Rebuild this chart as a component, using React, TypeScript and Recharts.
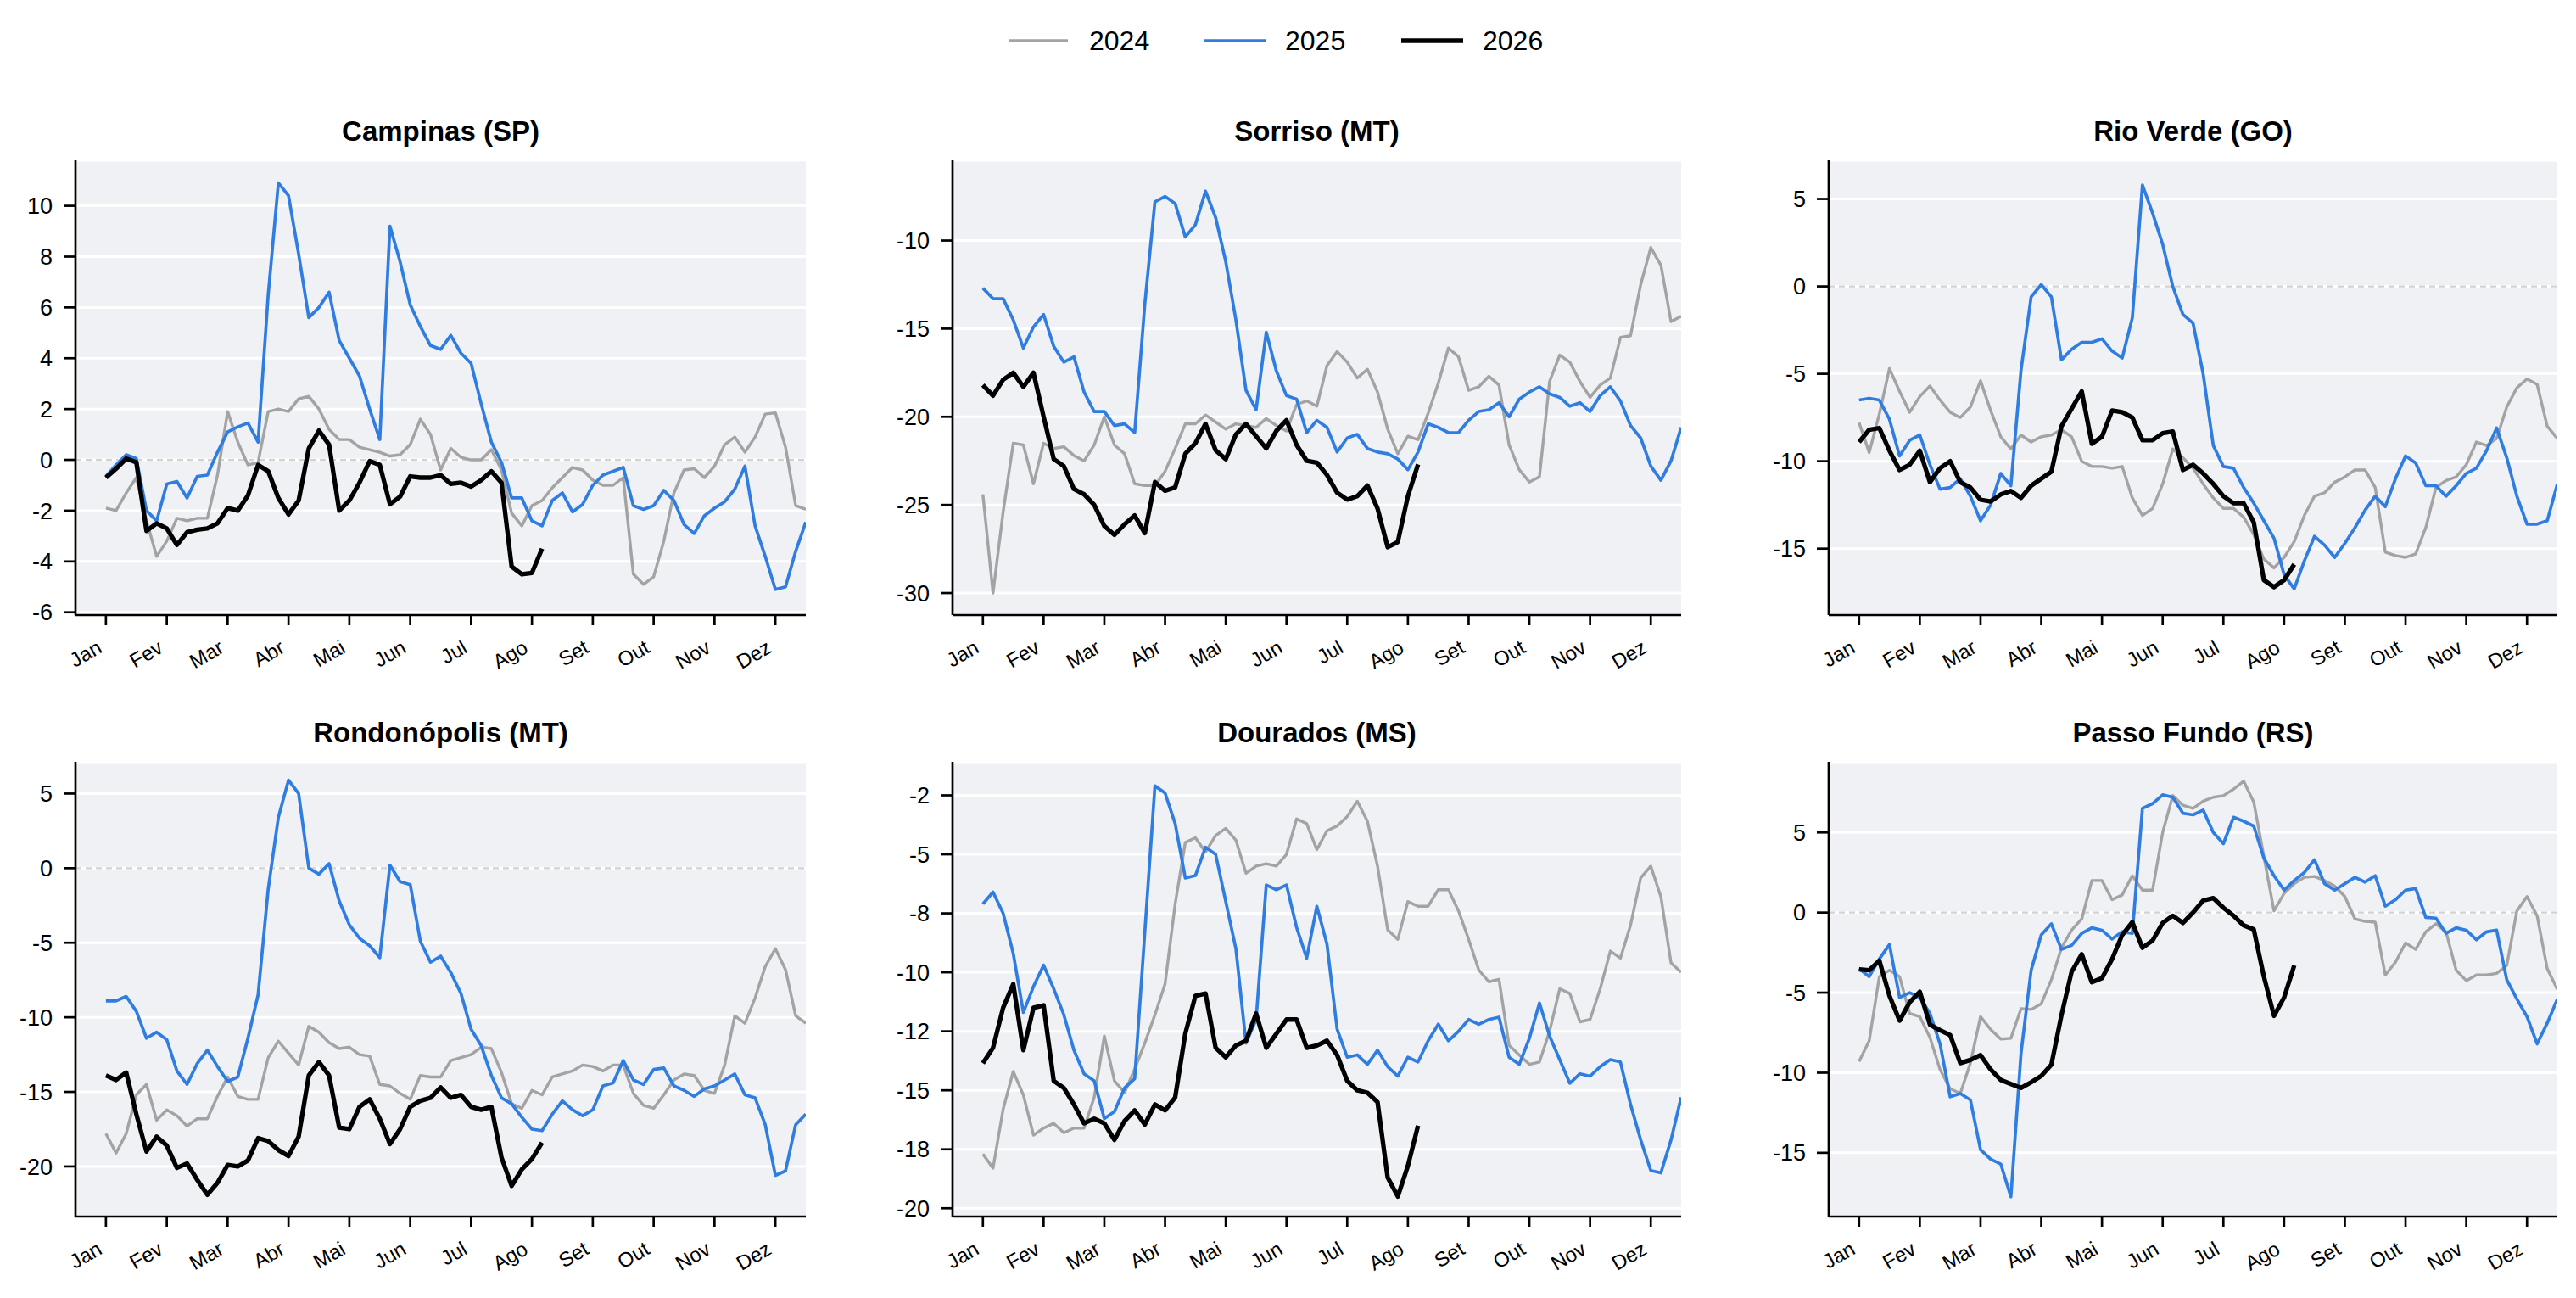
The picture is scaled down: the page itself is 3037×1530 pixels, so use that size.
import React from 'react';
import { LineChart, Line, XAxis, YAxis, CartesianGrid, ReferenceLine } from 'recharts';

// month axis: x is measured in months from Jan, 6 samples per month
const MONTHS = ['Jan', 'Fev', 'Mar', 'Abr', 'Mai', 'Jun', 'Jul', 'Ago', 'Set', 'Out', 'Nov', 'Dez'];
const MONTH_TICKS = [0, 1, 2, 3, 4, 5, 6, 7, 8, 9, 10, 11];
const STEPS_PER_MONTH = 6;
const N_POINTS = 70;
const X = Array.from({ length: N_POINTS }, (_, i) => i / STEPS_PER_MONTH);

const YEARS = ['2024', '2025', '2026'];

// Campinas (SP)
const CAMPINAS_2024 = [-1.9, -2.0, -1.3, -0.7, -2.4, -3.8, -3.2, -2.3, -2.4, -2.3, -2.3, -0.6, 1.9, 0.7, -0.2, -0.1, 1.9, 2.0, 1.9, 2.4, 2.5, 2.0, 1.2, 0.8, 0.8, 0.5, 0.4, 0.3, 0.15, 0.2, 0.6, 1.6, 1.0, -0.4, 0.45, 0.1, 0.0, 0.0, 0.4, -0.4, -2.1, -2.6, -1.8, -1.6, -1.1, -0.7, -0.3, -0.4, -0.8, -1.0, -1.0, -0.7, -4.5, -4.9, -4.6, -3.2, -1.3, -0.4, -0.35, -0.7, -0.25, 0.6, 0.9, 0.3, 0.9, 1.8, 1.85, 0.5, -1.8, -1.95];
const CAMPINAS_2025 = [-0.65, -0.2, 0.2, 0.05, -2.0, -2.4, -0.95, -0.85, -1.5, -0.65, -0.6, 0.3, 1.1, 1.3, 1.45, 0.7, 6.5, 10.9, 10.4, 8.1, 5.6, 6.0, 6.6, 4.7, 4.0, 3.3, 2.0, 0.8, 9.2, 7.8, 6.1, 5.25, 4.5, 4.35, 4.9, 4.2, 3.8, 2.2, 0.7, -0.1, -1.5, -1.5, -2.4, -2.6, -1.6, -1.3, -2.05, -1.75, -1.0, -0.6, -0.45, -0.3, -1.8, -1.95, -1.8, -1.2, -1.6, -2.55, -2.9, -2.2, -1.9, -1.65, -1.15, -0.25, -2.6, -3.8, -5.1, -5.0, -3.6, -2.45];
const CAMPINAS_2026 = [-0.7, -0.35, 0.05, -0.1, -2.8, -2.5, -2.7, -3.35, -2.85, -2.75, -2.7, -2.5, -1.9, -2.0, -1.4, -0.2, -0.45, -1.5, -2.15, -1.6, 0.45, 1.15, 0.6, -2.0, -1.6, -0.9, -0.05, -0.2, -1.75, -1.45, -0.65, -0.7, -0.7, -0.6, -0.95, -0.9, -1.05, -0.8, -0.45, -0.9, -4.2, -4.5, -4.45, -3.5];

// Sorriso (MT)
const SORRISO_2024 = [-24.4, -30.0, -25.4, -21.5, -21.6, -23.8, -21.5, -21.8, -21.7, -22.2, -22.5, -21.6, -20.0, -21.6, -22.1, -23.8, -23.9, -23.9, -23.1, -21.8, -20.4, -20.4, -19.9, -20.3, -20.7, -20.4, -20.5, -20.6, -20.1, -20.5, -20.8, -19.3, -19.1, -19.4, -17.1, -16.3, -16.9, -17.8, -17.3, -18.6, -20.7, -22.1, -21.1, -21.3, -19.8, -18.1, -16.1, -16.6, -18.5, -18.3, -17.7, -18.2, -21.6, -23.0, -23.7, -23.4, -18.0, -16.5, -16.9, -18.0, -18.9, -18.2, -17.8, -15.5, -15.4, -12.5, -10.4, -11.4, -14.6, -14.3];
const SORRISO_2025 = [-12.7, -13.3, -13.3, -14.5, -16.1, -14.9, -14.2, -16.0, -16.9, -16.6, -18.6, -19.7, -19.7, -20.5, -20.4, -20.9, -13.6, -7.8, -7.5, -7.9, -9.8, -9.1, -7.2, -8.7, -11.2, -14.5, -18.5, -19.6, -15.2, -17.4, -18.8, -19.0, -20.9, -20.2, -20.6, -22.0, -21.2, -21.0, -21.8, -22.0, -22.1, -22.4, -23.0, -22.0, -20.4, -20.6, -20.9, -20.9, -20.2, -19.7, -19.6, -19.2, -20.0, -19.0, -18.6, -18.3, -18.7, -18.9, -19.4, -19.2, -19.7, -18.8, -18.3, -19.1, -20.5, -21.2, -22.8, -23.6, -22.5, -20.6];
const SORRISO_2026 = [-18.2, -18.8, -17.9, -17.5, -18.3, -17.5, -20.0, -22.4, -22.8, -24.1, -24.4, -25.0, -26.2, -26.7, -26.1, -25.6, -26.6, -23.7, -24.2, -24.0, -22.1, -21.5, -20.4, -21.9, -22.4, -21.0, -20.4, -21.1, -21.8, -20.8, -20.2, -21.6, -22.5, -22.6, -23.3, -24.3, -24.7, -24.5, -23.9, -25.2, -27.4, -27.1, -24.5, -22.7];

// Rio Verde (GO)
const RIOVERDE_2024 = [-7.8, -9.5, -7.3, -4.7, -6.0, -7.2, -6.3, -5.7, -6.5, -7.2, -7.5, -6.9, -5.4, -7.1, -8.6, -9.3, -8.5, -8.9, -8.6, -8.5, -8.2, -8.6, -10.0, -10.3, -10.3, -10.4, -10.3, -12.1, -13.1, -12.7, -11.3, -9.3, -9.8, -10.4, -11.3, -12.1, -12.7, -12.7, -13.2, -14.2, -15.6, -16.1, -15.5, -14.6, -13.1, -12.0, -11.8, -11.2, -10.9, -10.5, -10.5, -11.5, -15.2, -15.4, -15.5, -15.3, -13.8, -11.5, -11.1, -10.9, -10.2, -8.9, -9.1, -8.7, -6.9, -5.8, -5.3, -5.6, -8.0, -8.7];
const RIOVERDE_2025 = [-6.5, -6.4, -6.5, -7.6, -9.7, -8.8, -8.5, -10.2, -11.6, -11.5, -11.0, -12.0, -13.4, -12.5, -10.7, -11.4, -4.8, -0.6, 0.1, -0.6, -4.2, -3.6, -3.2, -3.2, -3.0, -3.7, -4.1, -1.8, 5.8, 4.2, 2.4, 0.0, -1.6, -2.1, -5.0, -9.1, -10.3, -10.4, -11.5, -12.4, -13.4, -14.4, -16.5, -17.3, -15.7, -14.3, -14.8, -15.5, -14.7, -13.8, -12.8, -12.0, -12.6, -11.0, -9.7, -10.1, -11.4, -11.4, -12.0, -11.4, -10.7, -10.4, -9.4, -8.1, -9.8, -12.0, -13.6, -13.6, -13.4, -11.3];
const RIOVERDE_2026 = [-8.9, -8.2, -8.1, -9.4, -10.5, -10.2, -9.4, -11.2, -10.4, -10.0, -11.2, -11.5, -12.2, -12.3, -11.9, -11.7, -12.1, -11.4, -11.0, -10.6, -8.0, -7.0, -6.0, -9.0, -8.6, -7.1, -7.2, -7.5, -8.8, -8.8, -8.4, -8.3, -10.5, -10.2, -10.7, -11.3, -12.0, -12.4, -12.4, -13.5, -16.8, -17.2, -16.8, -15.9];

// Rondonópolis (MT)
const RONDO_2024 = [-17.8, -19.1, -17.8, -15.2, -14.5, -16.9, -16.2, -16.6, -17.3, -16.8, -16.8, -15.3, -14.0, -15.3, -15.5, -15.5, -12.7, -11.6, -12.4, -13.2, -10.6, -11.0, -11.7, -12.1, -12.0, -12.5, -12.6, -14.5, -14.6, -15.1, -15.5, -13.9, -14.0, -14.0, -12.9, -12.7, -12.5, -12.0, -12.1, -13.7, -15.8, -16.1, -14.9, -15.2, -14.0, -13.8, -13.6, -13.2, -13.3, -13.6, -13.2, -13.2, -15.1, -15.9, -16.1, -15.2, -14.2, -13.8, -13.9, -14.9, -15.1, -13.2, -9.9, -10.4, -8.7, -6.6, -5.4, -6.8, -9.9, -10.4];
const RONDO_2025 = [-8.9, -8.9, -8.6, -9.6, -11.4, -11.0, -11.5, -13.6, -14.5, -13.1, -12.2, -13.3, -14.3, -14.0, -11.4, -8.5, -1.4, 3.4, 5.9, 5.0, 0.0, -0.4, 0.3, -2.2, -3.8, -4.7, -5.2, -6.0, 0.2, -0.9, -1.1, -4.9, -6.3, -5.9, -7.0, -8.4, -10.8, -11.9, -13.9, -15.4, -15.8, -16.7, -17.5, -17.6, -16.5, -15.6, -16.2, -16.6, -16.2, -14.6, -14.4, -12.9, -14.2, -14.5, -13.5, -13.4, -14.6, -14.9, -15.3, -14.8, -14.6, -14.2, -13.8, -15.2, -15.4, -17.2, -20.6, -20.3, -17.2, -16.5];
const RONDO_2026 = [-13.9, -14.2, -13.7, -16.5, -19.0, -18.0, -18.6, -20.1, -19.8, -20.9, -21.9, -21.1, -19.9, -20.0, -19.6, -18.1, -18.3, -18.9, -19.3, -18.0, -13.9, -13.0, -13.9, -17.4, -17.5, -16.0, -15.5, -16.8, -18.5, -17.5, -16.0, -15.6, -15.4, -14.7, -15.4, -15.2, -16.0, -16.2, -16.0, -19.4, -21.3, -20.2, -19.5, -18.4];

// Dourados (MS)
const DOURADOS_2024 = [-17.7, -18.3, -15.8, -14.2, -15.2, -16.9, -16.6, -16.4, -16.8, -16.6, -16.6, -15.3, -12.7, -14.6, -15.1, -14.1, -13.0, -11.8, -10.5, -7.1, -4.5, -4.3, -4.9, -4.2, -3.9, -4.4, -5.8, -5.5, -5.4, -5.5, -5.0, -3.5, -3.7, -4.8, -4.0, -3.8, -3.4, -2.75, -3.6, -5.5, -8.2, -8.6, -7.0, -7.2, -7.2, -6.5, -6.5, -7.4, -8.6, -9.9, -10.4, -10.3, -13.1, -13.5, -13.9, -13.8, -12.5, -10.7, -10.9, -12.1, -12.0, -10.7, -9.1, -9.4, -8.0, -6.0, -5.5, -6.8, -9.6, -10.0];
const DOURADOS_2025 = [-7.1, -6.6, -7.5, -9.2, -11.7, -10.6, -9.7, -10.7, -11.8, -13.3, -14.3, -14.6, -16.2, -15.9, -14.9, -14.5, -8.3, -2.1, -2.4, -3.7, -6.0, -5.9, -4.7, -5.0, -7.0, -9.0, -13.0, -12.0, -6.3, -6.5, -6.3, -8.1, -9.4, -7.2, -8.8, -12.4, -13.6, -13.5, -13.9, -13.3, -14.0, -14.4, -13.6, -13.8, -12.9, -12.2, -12.9, -12.5, -12.0, -12.2, -12.0, -11.9, -13.6, -13.9, -12.8, -11.3, -12.7, -13.7, -14.7, -14.3, -14.4, -14.0, -13.7, -13.8, -15.6, -17.1, -18.4, -18.5, -17.1, -15.3];
const DOURADOS_2026 = [-13.85, -13.2, -11.5, -10.5, -13.3, -11.5, -11.4, -14.6, -14.9, -15.6, -16.4, -16.2, -16.4, -17.1, -16.3, -15.85, -16.45, -15.6, -15.85, -15.3, -12.6, -11.0, -10.9, -13.2, -13.6, -13.1, -12.9, -11.75, -13.2, -12.6, -12.0, -12.0, -13.2, -13.1, -12.9, -13.5, -14.6, -15.0, -15.1, -15.5, -18.7, -19.5, -18.2, -16.5];

// Passo Fundo (RS)
const PF_2024 = [-9.3, -8.0, -4.0, -3.6, -4.0, -6.3, -6.5, -7.8, -9.8, -11.0, -11.3, -9.4, -6.5, -7.3, -7.9, -7.85, -6.0, -6.05, -5.7, -4.2, -2.2, -1.1, -0.4, 2.0, 2.0, 0.8, 1.1, 2.3, 1.4, 1.4, 5.0, 7.3, 6.7, 6.5, 6.95, 7.2, 7.3, 7.7, 8.2, 6.9, 3.5, 0.1, 1.2, 1.8, 2.2, 2.25, 2.0, 1.65, 1.0, -0.4, -0.55, -0.6, -3.9, -3.1, -1.9, -2.3, -1.2, -0.7, -1.2, -3.6, -4.25, -3.9, -3.9, -3.8, -3.3, 0.1, 1.0, -0.2, -3.5, -4.8];
const PF_2025 = [-3.5, -4.0, -2.9, -2.0, -5.3, -5.0, -5.3, -6.3, -8.2, -11.5, -11.3, -11.7, -14.8, -15.4, -15.7, -17.75, -8.8, -3.6, -1.4, -0.7, -2.3, -2.05, -1.3, -0.95, -1.1, -1.65, -1.2, -1.3, 6.5, 6.8, 7.35, 7.2, 6.2, 6.1, 6.4, 5.0, 4.3, 5.95, 5.7, 5.4, 3.4, 2.3, 1.4, 2.0, 2.5, 3.3, 1.8, 1.4, 1.8, 2.2, 1.9, 2.3, 0.4, 0.8, 1.4, 1.5, -0.3, -0.35, -1.3, -0.95, -1.1, -1.7, -1.2, -1.1, -4.2, -5.4, -6.5, -8.2, -6.9, -5.4];
const PF_2026 = [-3.55, -3.6, -3.0, -5.2, -6.75, -5.6, -4.95, -7.0, -7.35, -7.65, -9.4, -9.2, -8.9, -9.8, -10.45, -10.7, -10.95, -10.6, -10.2, -9.5, -6.4, -3.7, -2.6, -4.35, -4.1, -2.9, -1.4, -0.6, -2.2, -1.75, -0.65, -0.2, -0.65, 0.0, 0.75, 0.9, 0.3, -0.2, -0.8, -1.05, -4.0, -6.45, -5.3, -3.3];

const COLORS = { '2024': '#a3a3a3', '2025': '#2f7de1', '2026': '#000000' };
const WIDTHS = { '2024': 3.4, '2025': 3.7, '2026': 5.3 };
const FONT = '"Liberation Sans", Arial, Helvetica, sans-serif';
const BG = '#f0f1f5';

// layout of the 2x3 grid (plot area boxes, in px)
const COLS = [
  { left: 89, width: 861 },
  { left: 1123, width: 859 },
  { left: 2156, width: 859 },
];
const ROWS = [189, 898];
const PLOT_H = 536;
const YAXIS_W = 89;
const XAXIS_H = 80;
const PAD = 6;

// python-style rounding, so -17.5 prints as -18 and -12.5 as -12
const roundHalfEven = (v: number) => {
  const f = Math.floor(v);
  if (Math.abs(v - f - 0.5) < 1e-9) return f % 2 === 0 ? f : f + 1;
  return Math.round(v);
};

const PANELS = [
  { title: 'Campinas (SP)', col: 0, row: 0, domain: [-6.11, 11.79], ticks: [-6, -4, -2, 0, 2, 4, 6, 8, 10], series: [CAMPINAS_2024, CAMPINAS_2025, CAMPINAS_2026] },
  { title: 'Sorriso (MT)', col: 1, row: 0, domain: [-31.25, -5.45], ticks: [-30, -25, -20, -15, -10], series: [SORRISO_2024, SORRISO_2025, SORRISO_2026] },
  { title: 'Rio Verde (GO)', col: 2, row: 0, domain: [-18.8, 7.21], ticks: [-15, -10, -5, 0, 5], series: [RIOVERDE_2024, RIOVERDE_2025, RIOVERDE_2026] },
  { title: 'Rondonópolis (MT)', col: 0, row: 1, domain: [-23.36, 7.13], ticks: [-20, -15, -10, -5, 0, 5], series: [RONDO_2024, RONDO_2025, RONDO_2026] },
  { title: 'Dourados (MS)', col: 1, row: 1, domain: [-20.35, -1.08], ticks: [-20, -17.5, -15, -12.5, -10, -7.5, -5, -2.5], series: [DOURADOS_2024, DOURADOS_2025, DOURADOS_2026] },
  { title: 'Passo Fundo (RS)', col: 2, row: 1, domain: [-18.98, 9.41], ticks: [-15, -10, -5, 0, 5], series: [PF_2024, PF_2025, PF_2026] },
];

const MonthTick = (props: any) => {
  const { x, y, payload } = props;
  const ax = x - 3;
  const ay = y + 29;
  return (
    <text x={ax} y={ay} transform={`rotate(-30 ${ax} ${ay})`} textAnchor="end" fontSize={24} fill="#000" fontFamily={FONT}>
      {MONTHS[payload.value]}
    </text>
  );
};

const Panel = ({ panel }: { panel: (typeof PANELS)[number] }) => {
  const col = COLS[panel.col];
  const top = ROWS[panel.row];
  const [s24, s25, s26] = panel.series;
  const data = X.map((x, i) => ({
    x,
    y2024: s24[i],
    y2025: s25[i],
    y2026: i < s26.length ? s26[i] : null,
  }));

  return (
    <div style={{ position: 'absolute', left: col.left - YAXIS_W, top: top - PAD }}>
      <LineChart
        width={YAXIS_W + col.width + PAD}
        height={PAD + PLOT_H + XAXIS_H}
        data={data}
        margin={{ top: PAD, right: PAD, bottom: 0, left: 0 }}
      >
        <CartesianGrid vertical={false} stroke="#ffffff" strokeWidth={3} fill={BG} />
        <XAxis
          type="number"
          dataKey="x"
          domain={[-0.5, 11.5]}
          ticks={MONTH_TICKS}
          interval={0}
          allowDataOverflow
          height={XAXIS_H}
          tickSize={12}
          tick={<MonthTick />}
          axisLine={{ stroke: '#000', strokeWidth: 2.7 }}
          tickLine={{ stroke: '#000', strokeWidth: 2.7 }}
        />
        <YAxis
          type="number"
          domain={panel.domain}
          ticks={panel.ticks}
          interval={0}
          allowDataOverflow
          width={YAXIS_W}
          tickSize={14}
          tickMargin={13}
          tickFormatter={(v: number) => String(roundHalfEven(v))}
          tick={{ fontSize: 27, fill: '#000', fontFamily: FONT }}
          axisLine={{ stroke: '#000', strokeWidth: 2.7 }}
          tickLine={{ stroke: '#000', strokeWidth: 2.7 }}
        />
        <ReferenceLine y={0} stroke="#d2d2d2" strokeWidth={2.2} strokeDasharray="7 5" />
        {YEARS.map((yr) => (
          <Line
            key={yr}
            type="linear"
            dataKey={`y${yr}`}
            stroke={COLORS[yr]}
            strokeWidth={WIDTHS[yr]}
            strokeLinejoin="round"
            dot={false}
            activeDot={false}
            isAnimationActive={false}
          />
        ))}
      </LineChart>
    </div>
  );
};

// legend sample positions (line start/end, label start)
const LEGEND = [
  { year: '2024', x1: 1189, x2: 1259, tx: 1284 },
  { year: '2025', x1: 1420, x2: 1492, tx: 1515 },
  { year: '2026', x1: 1652, x2: 1725, tx: 1748 },
];
const LEGEND_Y = 48;

export default function App() {
  return (
    <div style={{ position: 'absolute', left: 0, top: 0, width: 3037, height: 1530, background: '#fff', fontFamily: FONT }}>
      {PANELS.map((p) => (
        <Panel key={p.title} panel={p} />
      ))}
      <svg width={3037} height={1530} style={{ position: 'absolute', left: 0, top: 0, pointerEvents: 'none' }}>
        {PANELS.map((p) => {
          const col = COLS[p.col];
          return (
            <text
              key={p.title}
              x={col.left + col.width / 2}
              y={ROWS[p.row] - 23}
              textAnchor="middle"
              fontSize={33}
              fontWeight="bold"
              fontFamily={FONT}
              fill="#000"
            >
              {p.title}
            </text>
          );
        })}
        {LEGEND.map((l) => (
          <g key={l.year}>
            <line x1={l.x1} x2={l.x2} y1={LEGEND_Y} y2={LEGEND_Y} stroke={COLORS[l.year]} strokeWidth={WIDTHS[l.year]} />
            <text x={l.tx} y={LEGEND_Y} dominantBaseline="central" fontSize={32} fontFamily={FONT} fill="#000">
              {l.year}
            </text>
          </g>
        ))}
      </svg>
    </div>
  );
}
